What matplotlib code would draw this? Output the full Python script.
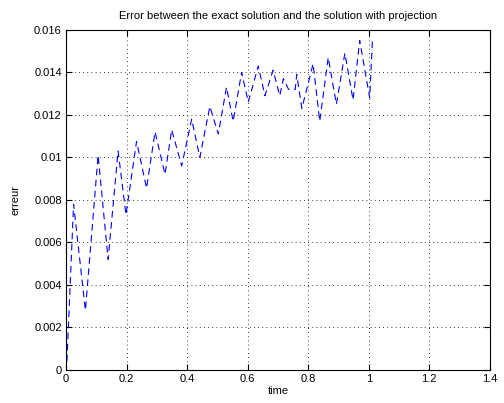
import numpy as np
import matplotlib
matplotlib.use("Agg")
import matplotlib.pyplot as plt
from matplotlib.ticker import FuncFormatter

# values (peaks and troughs of the error curve)
time = [0.003, 0.025, 0.064, 0.106, 0.139, 0.172, 0.198, 0.233, 0.266, 0.294,
        0.327, 0.349, 0.382, 0.415, 0.442, 0.475, 0.503, 0.530, 0.552, 0.580,
        0.602, 0.635, 0.657, 0.684, 0.706, 0.718, 0.735, 0.757, 0.762, 0.779,
        0.816, 0.838, 0.866, 0.893, 0.921, 0.948, 0.970, 1.003, 1.012]
erreur = [0.0004, 0.0078, 0.0028, 0.0101, 0.0052, 0.0103, 0.0073, 0.01075, 0.00855, 0.0112,
          0.0092, 0.0113, 0.0096, 0.0118, 0.0100, 0.0124, 0.0111, 0.0133, 0.0117, 0.0140,
          0.0126, 0.0143, 0.0129, 0.0141, 0.0129, 0.0137, 0.0132, 0.0132, 0.0139, 0.0123,
          0.0144, 0.0117, 0.0147, 0.0125, 0.0149, 0.0127, 0.0155, 0.0128, 0.0155]

x_ticks = [0, 0.2, 0.4, 0.6, 0.8, 1.0, 1.2, 1.4]
y_ticks = [0, 0.002, 0.004, 0.006, 0.008, 0.010, 0.012, 0.014, 0.016]

plt.rcParams['font.family'] = ['Liberation Sans', 'DejaVu Sans']
plt.rcParams['font.size'] = 8

fig = plt.figure(figsize=(5.04, 4.03), dpi=100)
ax = fig.add_axes([0.131, 0.082, 0.841, 0.844])
ax.plot(time, erreur, color='blue', linestyle=(0, (6, 4)), linewidth=0.8)

ax.set_xlim(0, 1.4)
ax.set_ylim(0, 0.016)
ax.set_xticks(x_ticks)
ax.set_yticks(y_ticks)
fmt = FuncFormatter(lambda v, p: '%g' % round(v, 6))
ax.xaxis.set_major_formatter(fmt)
ax.yaxis.set_major_formatter(fmt)
ax.tick_params(direction='in', length=4, top=True, right=True, labelsize=8, pad=3)
ax.grid(True, color='black', linestyle=(0, (1, 4)), linewidth=0.6)
for s in ax.spines.values():
    s.set_linewidth(0.8)

ax.set_title('Error between the exact solution and the solution with projection', fontsize=8, pad=8)
ax.set_xlabel('time', labelpad=1)
ax.set_ylabel('erreur', labelpad=10)

fig.savefig('out.png', dpi=100)
